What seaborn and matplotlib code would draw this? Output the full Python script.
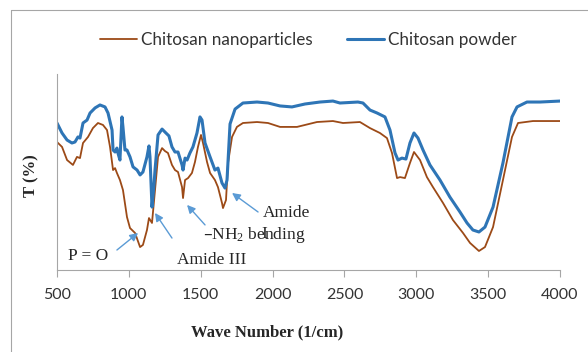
import pandas as pd
import matplotlib.pyplot as plt
import seaborn as sns
from matplotlib.lines import Line2D

# FTIR spectra (wave number in 1/cm, transmittance in %)
wn_nano = [500, 535, 570, 611, 639, 660, 681, 716, 750, 785, 820, 848, 869, 890,
           904, 917, 938, 959, 987, 1008, 1043, 1078, 1098, 1126, 1140, 1161, 1182,
           1203, 1231, 1251, 1272, 1300, 1321, 1342, 1370, 1377, 1391, 1412, 1439,
           1460, 1481, 1502, 1516, 1544, 1565, 1599, 1620, 1648, 1655, 1676, 1690,
           1718, 1752, 1794, 1892, 1968, 2052, 2170, 2309, 2420, 2490, 2608, 2678,
           2747, 2796, 2831, 2866, 2887, 2921, 2956, 2984, 3026, 3074, 3116, 3186,
           3255, 3325, 3374, 3436, 3478, 3534, 3603, 3666, 3708, 3812, 4000]
t_nano = [65.3, 62.8, 56.1, 53.6, 57.7, 57.1, 64.8, 67.9, 72.4, 75.0, 74.0, 71.4,
          62.8, 51.0, 52.0, 49.5, 45.9, 40.8, 27.0, 21.4, 18.9, 11.7, 12.8, 20.4,
          26.5, 24.0, 40.8, 57.7, 62.2, 60.7, 59.7, 53.6, 51.0, 50.0, 42.3, 36.7,
          45.9, 46.9, 49.5, 55.1, 62.8, 68.9, 64.8, 55.1, 49.5, 45.9, 42.3, 34.2,
          31.6, 35.7, 54.6, 67.9, 73.0, 75.0, 75.5, 75.0, 73.0, 73.0, 75.5, 76.0,
          75.0, 75.5, 72.4, 69.9, 67.3, 59.7, 46.9, 47.4, 46.9, 54.6, 60.2, 56.1,
          47.4, 42.3, 34.2, 25.5, 18.9, 13.8, 9.7, 11.7, 21.9, 45.9, 67.9, 75.0,
          76.0, 76.0]

wn_powder = [500, 535, 570, 604, 625, 646, 660, 681, 709, 730, 765, 799, 834, 855,
             883, 890, 904, 917, 924, 938, 952, 959, 973, 987, 1008, 1029, 1057,
             1078, 1098, 1126, 1140, 1147, 1161, 1175, 1182, 1203, 1231, 1258, 1279,
             1300, 1321, 1342, 1370, 1377, 1391, 1405, 1425, 1446, 1474, 1495, 1509,
             1530, 1565, 1599, 1620, 1648, 1669, 1683, 1704, 1739, 1794, 1892, 1968,
             2052, 2135, 2226, 2330, 2420, 2469, 2594, 2629, 2678, 2727, 2782, 2817,
             2852, 2873, 2900, 2928, 2956, 2984, 3012, 3047, 3095, 3165, 3234, 3304,
             3353, 3394, 3436, 3478, 3534, 3603, 3666, 3701, 3770, 3861, 4000]
t_powder = [75.0, 69.9, 66.3, 64.8, 65.3, 67.9, 67.3, 75.0, 76.5, 80.1, 82.7, 84.2,
            83.2, 80.1, 71.4, 61.2, 60.2, 62.2, 59.7, 56.1, 78.1, 73.0, 61.2, 61.2,
            57.7, 52.6, 51.0, 48.5, 50.0, 57.7, 63.3, 57.7, 32.1, 43.4, 51.0, 68.9,
            71.9, 69.9, 68.4, 62.8, 60.2, 60.2, 53.6, 51.0, 57.1, 56.1, 59.7, 62.8,
            69.9, 78.1, 76.5, 64.8, 57.7, 51.0, 52.0, 44.4, 41.8, 45.9, 74.5, 82.1,
            85.2, 85.7, 85.2, 83.7, 83.2, 84.7, 85.7, 86.2, 85.2, 85.7, 85.2, 81.6,
            80.1, 78.1, 71.4, 59.7, 56.1, 57.1, 56.6, 64.8, 69.9, 67.3, 61.2, 53.6,
            45.9, 37.2, 29.6, 24.0, 20.4, 19.4, 21.9, 32.1, 54.6, 78.1, 83.2, 85.7,
            85.7, 86.2]

x_ticks = [500, 1000, 1500, 2000, 2500, 3000, 3500, 4000]

sns.set_theme(style="white")
plt.rcParams['font.family'] = ['Lato', 'DejaVu Sans']
serif = ['Liberation Serif', 'DejaVu Serif']

fig = plt.figure(figsize=(5.88, 3.52), dpi=100)
ax = fig.add_axes([57 / 588, 82 / 352, 503 / 588, 196 / 352])

nano = pd.DataFrame({"wn": wn_nano, "T": t_nano})
powder = pd.DataFrame({"wn": wn_powder, "T": t_powder})
sns.lineplot(data=nano, x="wn", y="T", color="#9C4A17", lw=1.3, sort=False,
             estimator=None, label="Chitosan nanoparticles", ax=ax)
sns.lineplot(data=powder, x="wn", y="T", color="#2E75B6", lw=2.2, sort=False,
             estimator=None, label="Chitosan powder", ax=ax)

ax.set_xlim(500, 4000)
ax.set_ylim(0, 100)
ax.set_xticks(x_ticks)
ax.set_yticks([])
for s in ["top", "right"]:
    ax.spines[s].set_visible(False)
for s in ["left", "bottom"]:
    ax.spines[s].set_color("#A6A6A6")
    ax.spines[s].set_linewidth(0.8)
ax.tick_params(axis="x", direction="out", length=5, width=0.8, color="#A6A6A6",
               labelsize=11.5, pad=8, labelcolor="#333333", bottom=True)

ax.set_xlabel("Wave Number (1/cm)", family=serif, weight="bold", fontsize=12)
ax.xaxis.set_label_coords(0.418, -0.28)
ax.set_ylabel("T (%)", family=serif, weight="bold", fontsize=12)
ax.yaxis.set_label_coords(-0.036, 0.48)

# peak annotations
ax.text(577, 7.1, "P = O", family=serif, fontsize=12.5, va="center")
ax.text(1335, 5.1, "Amide III", family=serif, fontsize=12.5, va="center")
ax.text(1516, 17.9, "\u2013NH$\\mathregular{_2}$ bending", family=serif, fontsize=12.5, va="center")
ax.text(1933, 29.1, "Amide", family=serif, fontsize=12.5, va="center")
ax.text(1919, 18.4, "I", family=serif, fontsize=12.5, va="center")

arrows = [((917, 10.2), (1064, 18.9)),
          ((1300, 16.3), (1182, 29.1)),
          ((1530, 23.0), (1405, 33.2)),
          ((1899, 29.6), (1718, 39.3))]
for tail, head in arrows:
    ax.annotate("", xy=head, xytext=tail,
                arrowprops=dict(arrowstyle="-|>", color="#5B9BD5", lw=1.0,
                                mutation_scale=12, shrinkA=0, shrinkB=0))

leg = ax.legend(loc="center", bbox_to_anchor=(0.524, 0.886), bbox_transform=fig.transFigure,
                ncol=2, frameon=False, fontsize=12.3, handlelength=2.2,
                handletextpad=0.2, columnspacing=2.0)
for t in leg.get_texts():
    t.set_color("#333333")

# outer chart border (only top and left edges are visible in the crop)
fig.add_artist(Line2D([10.5 / 588, 10.5 / 588], [0, 1 - 10 / 352], color="#A6A6A6", lw=0.8))
fig.add_artist(Line2D([10.5 / 588, 1], [1 - 10 / 352, 1 - 10 / 352], color="#A6A6A6", lw=0.8))

fig.savefig("out.png", dpi=100)
